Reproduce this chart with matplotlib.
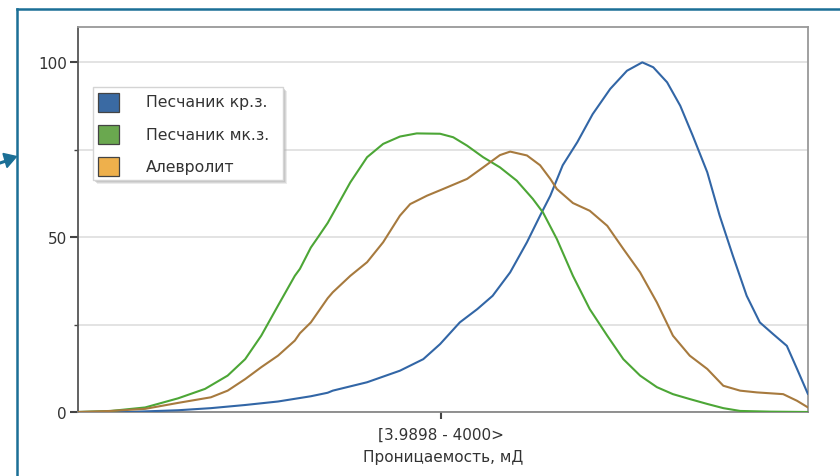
import matplotlib
matplotlib.use("Agg")
import matplotlib.pyplot as plt
from matplotlib.patches import Polygon, Rectangle
from matplotlib.lines import Line2D
from matplotlib.ticker import MultipleLocator

# Кривые распределения проницаемости по литотипам (x - положение на шкале, %)
x_krz = [0, 6.8, 13.7, 18.2, 22.9, 27.4, 31.9, 34.2, 34.9, 39.6, 44.1, 47.3,
         49.6, 52.3, 54.7, 56.8, 59.2, 61.5, 63.3, 64.7, 66.4, 68.4, 70.5,
         72.9, 75.2, 77.3, 78.8, 80.7, 82.5, 84.2, 86.2, 87.9, 89.7, 91.6,
         93.4, 95.2, 97.1, 98.5, 100]
y_krz = [0, 0, 0.5, 1.1, 2.0, 3.0, 4.5, 5.5, 6.1, 8.5, 11.8, 15.1,
         19.4, 25.6, 29.4, 33.2, 39.9, 48.5, 56.1, 61.8, 70.5, 77.1, 85.1,
         92.3, 97.5, 99.9, 98.5, 94.2, 87.5, 79.0, 68.5, 56.1, 44.7, 33.2,
         25.6, 22.3, 18.9, 12.3, 5.1]

x_mkz = [0, 4.5, 9.2, 13.7, 17.4, 20.5, 22.9, 25.1, 27.4, 29.7, 30.4, 31.9,
         32.7, 34.2, 34.9, 37.3, 39.6, 41.8, 44.1, 46.4, 49.6, 51.4, 53.3,
         55.5, 57.8, 60.1, 62.3, 63.7, 64.7, 65.6, 67.8, 70.1, 72.5, 74.7,
         77.0, 79.3, 81.5, 83.8, 86.2, 88.4, 90.7, 94.8, 100]
y_mkz = [0, 0.3, 1.3, 3.9, 6.6, 10.4, 15.1, 21.8, 30.4, 38.9, 40.9, 47.0,
         49.4, 54.0, 56.6, 65.6, 72.8, 76.6, 78.7, 79.6, 79.5, 78.5, 76.1,
         72.8, 69.9, 66.1, 60.9, 57.0, 53.0, 49.4, 38.9, 29.4, 21.8, 15.1,
         10.4, 7.1, 5.1, 3.7, 2.3, 1.1, 0.3, 0.1, 0]

x_alv = [0, 4.5, 9.2, 13.7, 18.2, 20.5, 22.9, 25.1, 27.4, 29.7, 30.4, 31.9,
         32.7, 34.2, 34.9, 37.3, 39.6, 41.8, 44.1, 45.5, 47.8, 50.0, 53.3,
         55.5, 57.8, 59.2, 61.5, 63.3, 64.7, 65.6, 67.8, 70.1, 72.5, 74.7,
         77.0, 79.3, 81.5, 83.8, 86.2, 88.4, 90.7, 93.0, 96.6, 98.5, 100]
y_alv = [0, 0.3, 0.9, 2.6, 4.2, 6.1, 9.4, 12.8, 16.1, 20.4, 22.5, 25.6,
         28.0, 32.5, 34.2, 38.9, 42.8, 48.5, 56.1, 59.4, 61.8, 63.7, 66.6,
         69.9, 73.4, 74.4, 73.3, 70.5, 66.6, 63.7, 59.7, 57.5, 53.2, 46.6,
         39.9, 31.3, 21.8, 16.1, 12.3, 7.5, 6.1, 5.6, 5.1, 3.2, 1.3]

labels = ["Песчаник кр.з.", "Песчаник мк.з.", "Алевролит"]
line_colors = ["#3266a6", "#4ca636", "#a77a3e"]
patch_colors = ["#3a6aa3", "#6aa84f", "#eeb04c"]
xtick_pos = [49.7]
xtick_labels = ["[3.9898 - 4000>"]

W, H = 840, 477
fig = plt.figure(figsize=(W / 100, H / 100), dpi=100)
ax = fig.add_axes([78 / W, 1 - 413 / H, 730 / W, 385 / H])


def px(x, y):
    # пиксели от левого верхнего угла -> доли фигуры
    return (x / W, 1 - y / H)


line_kw = dict(lw=1.5, zorder=3, solid_joinstyle="round", solid_capstyle="round")
ax.plot(x_krz, y_krz, color=line_colors[0], **line_kw)
ax.plot(x_mkz, y_mkz, color=line_colors[1], **line_kw)
ax.plot(x_alv, y_alv, color=line_colors[2], **line_kw)

ax.set_xlim(0, 100)
ax.set_ylim(0, 110)
ax.yaxis.set_major_locator(MultipleLocator(50))
ax.yaxis.set_minor_locator(MultipleLocator(25))
ax.grid(True, which="both", axis="y", color="#e0e0e0", lw=1.3, zorder=0)
ax.set_xticks(xtick_pos)
ax.set_xticklabels(xtick_labels)

ax.tick_params(axis="y", which="major", length=6, width=1.5, color="#444444",
               labelsize=11, labelcolor="#333333", pad=2)
ax.tick_params(axis="y", which="minor", length=3, width=1, color="#444444")
ax.tick_params(axis="x", length=5, width=1.5, color="#444444",
               labelsize=11, labelcolor="#333333", pad=6)
ax.set_xlabel("Проницаемость, мД", fontsize=11, color="#333333", labelpad=5)

for side, col in [("left", "#555555"), ("bottom", "#888888"),
                  ("top", "#999999"), ("right", "#999999")]:
    ax.spines[side].set_color(col)
    ax.spines[side].set_linewidth(1.3)

# легенда: рамка с тенью, цветные квадраты и подписи
tf = fig.transFigure
lx0, ly0, lx1, ly1 = 93, 88, 283, 181
for off, a in [(4, 0.25), (3, 0.35), (2, 0.45)]:
    fig.add_artist(Rectangle(px(lx0 + off, ly1 + off), (lx1 - lx0) / W,
                             (ly1 - ly0) / H, transform=tf, facecolor="#b0b0b0",
                             edgecolor="none", alpha=a, zorder=9))
fig.add_artist(Rectangle(px(lx0, ly1), (lx1 - lx0) / W, (ly1 - ly0) / H,
                         transform=tf, facecolor="white", edgecolor="#d4d4d4",
                         lw=1.0, zorder=10))
row_y = [103, 135.5, 167.5]
for yc, col, lab in zip(row_y, patch_colors, labels):
    fig.add_artist(Rectangle(px(97.5, yc + 9.5), 21 / W, 19 / H, transform=tf,
                             facecolor=col, edgecolor="#444444", lw=0.9, zorder=11))
    fig.text(*px(146, yc), lab, fontsize=11.3, color="#333333",
             ha="left", va="center", zorder=12)

# рамка вокруг диаграммы и стрелка слева
frame_col = "#1b6f96"
fig.add_artist(Line2D([16.5 / W, 16.5 / W], [0, 1 - 10 / H],
                      color=frame_col, lw=1.8, transform=tf))
fig.add_artist(Line2D([16.5 / W, 1], [1 - 10 / H, 1 - 10 / H],
                      color=frame_col, lw=1.8, transform=tf))
fig.add_artist(Line2D([0, 6 / W], [1 - 164 / H, 1 - 162 / H],
                      color=frame_col, lw=2.2, transform=tf))
fig.add_artist(Polygon([px(16.5, 157.5), px(3, 154.5), px(7, 168.5)],
                       closed=True, color=frame_col, transform=tf))

fig.savefig("out.png", dpi=100)
